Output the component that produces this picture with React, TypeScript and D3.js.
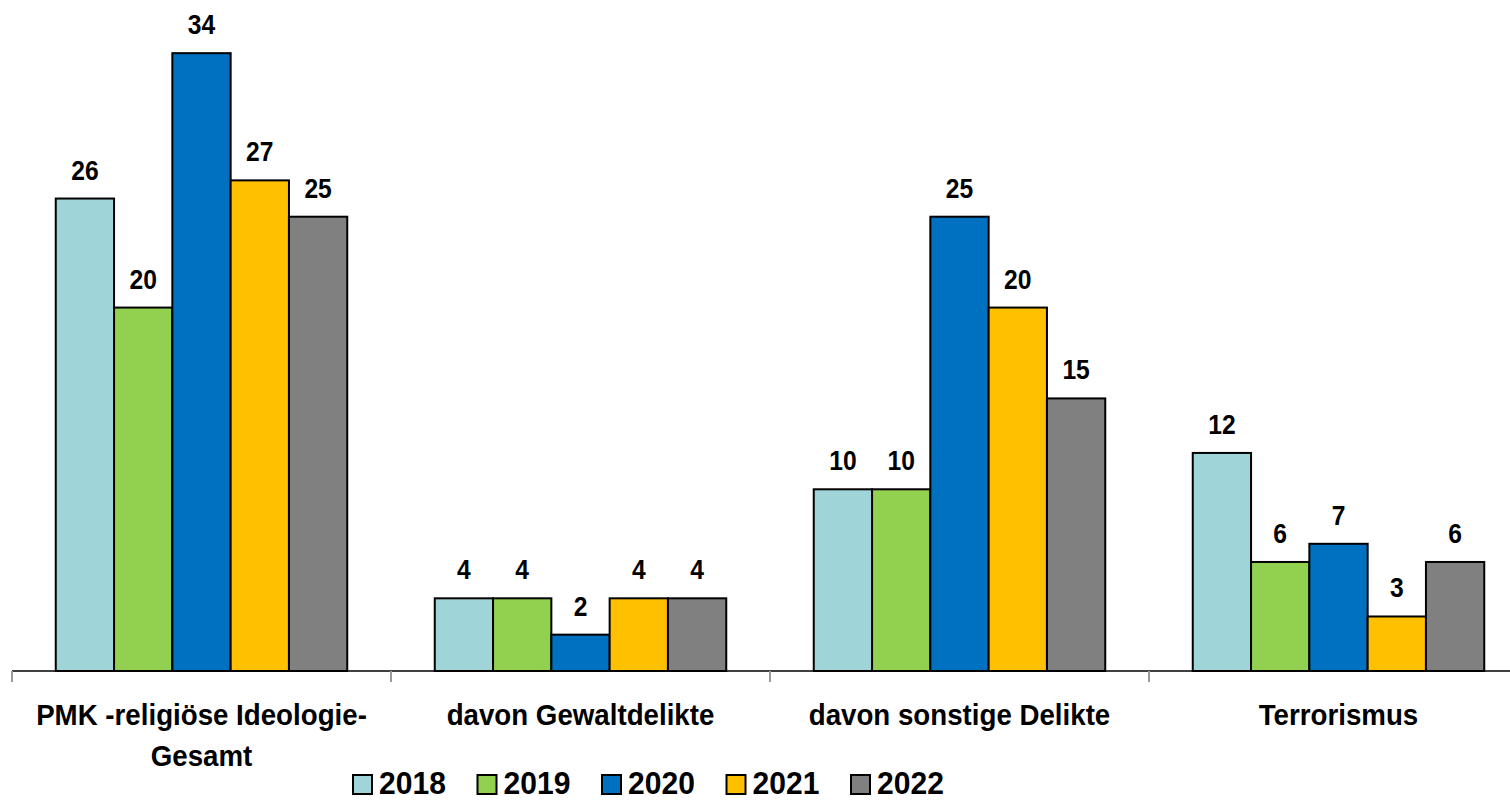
import React from 'react';
import * as d3 from 'd3';

const categories = ['PMK -religiöse Ideologie-|Gesamt', 'davon Gewaltdelikte', 'davon sonstige Delikte', 'Terrorismus'];
const years = ['2018', '2019', '2020', '2021', '2022'];
const v2018 = [26, 4, 10, 12];
const v2019 = [20, 4, 10, 6];
const v2020 = [34, 2, 25, 7];
const v2021 = [27, 4, 20, 3];
const v2022 = [25, 4, 15, 6];
const colors = ['#9FD4D8', '#92D050', '#0070C0', '#FFC000', '#808080'];

const font = '"Liberation Sans", Arial, sans-serif';

const App = () => {
  const W = 1510, H = 801;
  const series = [v2018, v2019, v2020, v2021, v2022];
  const x0 = d3.scaleBand().domain(categories).range([12, 12 + 379 * 4]).paddingInner(0).paddingOuter(0);
  const inner = 291.5 / 379;
  const x1 = d3.scaleBand().domain(years)
    .range([(x0.bandwidth() * (1 - inner)) / 2, (x0.bandwidth() * (1 + inner)) / 2]);
  const y = d3.scaleLinear().domain([0, 35]).range([671, 35]);

  return (
    <svg width={W} height={H} style={{ position: 'absolute', left: 0, top: 0 }} fontFamily={font} fontWeight="bold">
      <rect width={W} height={H} fill="#fff" />
      {categories.map((c, ci) => (
        <g key={c} transform={`translate(${x0(c)},0)`}>
          {years.map((yr, si) => {
            const v = series[si][ci];
            const bx = x1(yr)!;
            return (
              <g key={yr}>
                <rect x={bx} y={y(v)} width={x1.bandwidth()} height={y(0) - y(v)}
                  fill={colors[si]} stroke="#000" strokeWidth={2} />
                <text transform={`translate(${bx + x1.bandwidth() / 2},${y(v) - 19}) scale(0.88,1)`}
                  textAnchor="middle" fontSize={28}>{v}</text>
              </g>
            );
          })}
        </g>
      ))}
      <line x1={12} x2={W} y1={y(0)} y2={y(0)} stroke="#000" strokeWidth={1.5} />
      {categories.map((c) => (
        <line key={c} x1={x0(c)!} x2={x0(c)!} y1={y(0)} y2={y(0) + 11} stroke="#999" strokeWidth={2} />
      ))}
      {categories.map((c) => {
        const cx = x0(c)! + x0.bandwidth() / 2;
        const lines = c.split('|');
        return (
          <g key={c} transform={`translate(${cx},725) scale(0.955,1)`}>
            {lines.map((l, i) => (
              <text key={i} x={0} y={i * 41} textAnchor="middle" fontSize={29}>{l}</text>
            ))}
          </g>
        );
      })}
      {years.map((yr, i) => {
        const lx = 353 + i * 124.5;
        return (
          <g key={yr}>
            <rect x={lx} y={775} width={19} height={19} fill={colors[i]} stroke="#000" strokeWidth={2} />
            <text transform={`translate(${lx + 26},794) scale(0.97,1)`} fontSize={31}>{yr}</text>
          </g>
        );
      })}
    </svg>
  );
};

export default App;
